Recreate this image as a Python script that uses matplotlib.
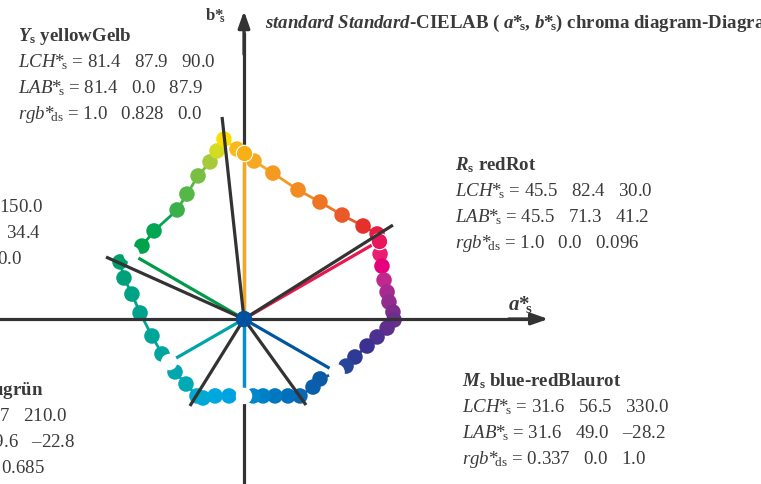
import matplotlib
matplotlib.use("Agg")
import matplotlib.pyplot as plt

plt.rcParams["font.family"] = ["Liberation Serif", "DejaVu Serif"]
plt.rcParams["mathtext.fontset"] = "custom"
plt.rcParams["mathtext.rm"] = "Liberation Serif"
plt.rcParams["mathtext.it"] = "Liberation Serif:italic"
plt.rcParams["mathtext.bf"] = "Liberation Serif:bold"
plt.rcParams["mathtext.bfit"] = "Liberation Serif:italic:bold"

# hue circle samples (a*, b*) going Y -> R -> M -> B -> C -> G -> Y
ring_a = [0.0, 5.3, 15.3, 28.6, 40.2, 51.9, 63.0, 70.4,
          71.3, 72.0, 73.0, 74.1, 75.7, 76.7, 78.8, 79.4, 75.7, 70.4, 65.1, 58.7, 54.0,
          49.0, 40.2, 36.5, 29.6, 23.3, 16.4, 10.1, 4.8,
          0.0, -7.9, -15.3, -21.7, -24.9, -30.7, -36.5,
          -39.6, -43.4, -48.7, -55.0, -59.3, -63.5, -65.6,
          -59.6, -54.0, -47.6, -35.4, -30.2, -24.3, -18.0, -14.3, -10.6, -3.7]
ring_b = [87.9, 83.6, 77.2, 68.3, 61.9, 55.0, 49.2, 45.0,
          41.2, 34.4, 28.0, 20.6, 14.3, 9.0, 3.7, -0.5, -4.8, -9.5, -14.3, -20.1, -24.9,
          -28.2, -31.7, -36.0, -40.7, -40.7, -40.7, -40.7, -40.7,
          -40.7, -40.7, -40.7, -41.8, -40.7, -34.4, -28.0,
          -22.8, -18.5, -9.0, 3.2, 13.2, 21.7, 30.2,
          34.4, 38.6, 46.6, 57.7, 66.1, 75.7, 83.1, 88.9, 95.2, 89.9]
ring_col = ["#F8B017", "#F7A823", "#F49A21", "#F18B22", "#EE7524", "#EA5A28", "#E5302B", "#E71E44",
            "#E8175D", "#E91E6F", "#E6007E", "#C0288E", "#A8298F", "#922C8E", "#7E2D8C", "#6B2E8B",
            "#5E2F8D", "#4D3190", "#3B3192", "#2E3A94", "#274599",
            "#1F4FA0", "#0B5AA6", "#0A5EAA", "#0C68B3", "#0070BA", "#0077BF", "#0080C6", "#0087CC",
            "#0095D6", "#00A3E0", "#00A8E0", "#00A8D6", "#00AAD0", "#00A9B4", "#00A7AD",
            "#00A6A6", "#00A59E", "#00A597", "#00A28E", "#00A285", "#00A07A", "#009F6C",
            "#00A05A", "#00A24C", "#00A651", "#3BB04A", "#55B748", "#78BE43", "#A5CA3A",
            "#D3DC22", "#FFDD00", "#FBB81A"]

# standard colours Y, R, M, B, C, G
std_names = ["Y", "R", "M", "B", "C", "G"]
std_a = [0.0, 71.3, 49.0, 0.0, -39.6, -59.6]
std_b = [87.9, 41.2, -28.2, -40.7, -22.8, 34.4]
std_line = ["#F3A91D", "#E8174F", "#0055A0", "#0090D3", "#00A3A6", "#009B48"]
std_ring_idx = [0, 8, 21, 29, 36, 43]
std_white = [False, False, True, True, True, True]

# elementary hue lines
hue_a = [-11.6, 78.8, -73.0, -28.6, 32.8]
hue_b = [106.9, 49.7, 32.8, -46.0, -45.5]

# text blocks
blocks = [
    (r"$\mathbfit{Y}_{\mathbf{s}}$ yellowGelb",
     ["81.4   87.9   90.0", "81.4   0.0   87.9", "1.0   0.828   0.0"]),
    (r"$\mathbfit{R}_{\mathbf{s}}$ redRot",
     ["45.5   82.4   30.0", "45.5   71.3   41.2", "1.0   0.0   0.096"]),
    (r"$\mathbfit{M}_{\mathbf{s}}$ blue-redBlaurot",
     ["31.6   56.5   330.0", "31.6   49.0   \u201328.2", "0.337   0.0   1.0"]),
    (r"$\mathbfit{G}_{\mathbf{s}}$ greenGrün",
     ["56.4   68.8   150.0", "56.4   \u201359.6   34.4", "0.0   0.59   0.0"]),
    (r"$\mathbfit{C}_{\mathbf{s}}$ blue-greenBlaugrün",
     ["50.9   45.7   210.0", "50.9   \u201339.6   \u201322.8", "0.0   0.677   0.685"]),
]
row_labels = [r"$\mathit{LCH}$*$_{\!\!\mathrm{s}}$ = ", r"$\mathit{LAB}$*$_{\!\!\mathrm{s}}$ = ",
              r"$\mathit{rgb}$*$_{\!\!\mathrm{ds}}$ = "]

W, H = 761, 485
S = 1.89
OX, OY = 244, 320

fig = plt.figure(figsize=(W / 100, H / 100), dpi=100)
ax = fig.add_axes([0, 0, 1, 1])
ax.set_xlim(-OX / S, (W - OX) / S)
ax.set_ylim(-(H - OY) / S, OY / S)
ax.axis("off")

dark = "#333333"
tc = "#3a3a3a"

# axes with arrows
ax.plot([-140, 150], [0, 0], color=dark, lw=2.3, zorder=3, solid_capstyle="butt")
ax.plot([0, 0], [-95, 152], color=dark, lw=2.3, zorder=1.5, solid_capstyle="butt")
ax.annotate("", xy=(161, 0), xytext=(140, 0),
            arrowprops=dict(arrowstyle="-|>,head_length=1.0,head_width=0.35", color=dark, lw=2.3,
                            shrinkA=0, shrinkB=0), zorder=3)
ax.annotate("", xy=(0, 163), xytext=(0, 140),
            arrowprops=dict(arrowstyle="-|>,head_length=1.0,head_width=0.35", color=dark, lw=2.3,
                            shrinkA=0, shrinkB=0), zorder=3)

# connecting lines around the hue circle
n = len(ring_a)
for i in range(n):
    j = (i + 1) % n
    ax.plot([ring_a[i], ring_a[j]], [ring_b[i], ring_b[j]], color=ring_col[i], lw=2.0, zorder=1)

ax.scatter(ring_a, ring_b, s=125, c=ring_col, edgecolors="none", zorder=2)

# radial lines to the standard colours
for a, b, c in zip(std_a, std_b, std_line):
    ax.plot([0, a], [0, b], color=c, lw=2.3, zorder=3.5, solid_capstyle="butt")

for k, idx in enumerate(std_ring_idx):
    if std_white[k]:
        ax.scatter([std_a[k]], [std_b[k]], s=140, c="white", edgecolors="none", zorder=4)
    else:
        ax.scatter([std_a[k]], [std_b[k]], s=140, c=ring_col[idx], edgecolors="white",
                   linewidths=0.8, zorder=4)

for a, b in zip(hue_a, hue_b):
    ax.plot([0, a], [0, b], color=dark, lw=2.3, zorder=5, solid_capstyle="butt")

ax.scatter([0], [0], s=140, c="#0050A0", edgecolors="none", zorder=6)


def px(x, y):
    return x / W, 1 - y / H


fs = 13.6
# left-aligned blocks: Y, R, M
for (head, vals), (x, y) in zip(blocks[:3], [(18, 41), (455, 170), (462, 386)]):
    fig.text(*px(x, y), head, fontsize=fs, fontweight="bold", color=tc, va="baseline")
    for r, (lab, v) in enumerate(zip(row_labels, vals)):
        fig.text(*px(x, y + 26 * (r + 1)), lab + v, fontsize=fs, color=tc, va="baseline")

# blocks running off the left edge, placed by their right ends
for (head, vals), ends, y in zip(blocks[3:], [(-40, 43, 41, 22), (43, 67, 75, 45)], [186, 395]):
    fig.text(*px(ends[0], y), head, fontsize=fs, fontweight="bold", color=tc,
             va="baseline", ha="right")
    for r, (lab, v) in enumerate(zip(row_labels, vals)):
        fig.text(*px(ends[r + 1], y + 26 * (r + 1)), lab + v, fontsize=fs, color=tc,
                 va="baseline", ha="right")

fig.text(*px(265, 28),
         r"$\mathbfit{standard\ Standard}$-CIELAB ( $\mathbfit{a}$*$_{\!\!\mathbf{s}}$, "
         r"$\mathbfit{b}$*$_{\!\!\mathbf{s}}$) chroma diagram-Diagramm",
         fontsize=fs, fontweight="bold", color=tc, va="baseline")
fig.text(*px(533, 310), r"$\mathbfit{a}$*$_{\!\!\mathbf{s}}$", fontsize=15, fontweight="bold",
         color=tc, va="baseline", ha="right")
fig.text(*px(205, 21), r"b*$_{\!\!\mathbf{s}}$", fontsize=12, fontweight="bold", color=tc,
         va="baseline")

fig.savefig("out.png", dpi=100)
